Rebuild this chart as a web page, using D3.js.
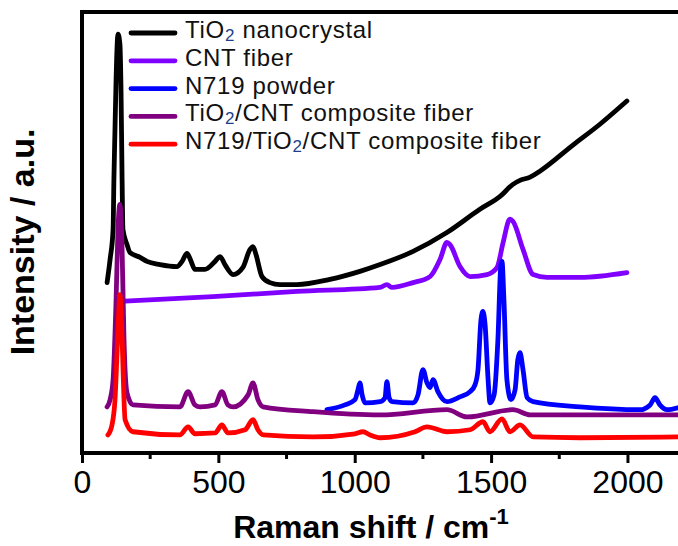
<!DOCTYPE html>
<html>
<head>
<meta charset="utf-8">
<script src="https://cdn.jsdelivr.net/npm/d3@7"></script>
<style>
  body { margin: 0; background: #fff; }
  svg { display: block; font-family: "Liberation Sans", Arial, sans-serif; }
</style>
</head>
<body>
<svg id="chart" width="678" height="546"></svg>
<script>
// Raman spectra, [wavenumber (cm-1), intensity (a.u., offset as plotted)]
const tio2Nano = [[92,42.5],[103,48.3],[114,55.8],[117,68.3],[121,80.8],[125,93.3],[132,104.5],[139,102],
  [143,90.8],[147,68.3],[150,55.8],[165,52],[176,50],[213,48.8],[238,47.8],[286,47],[348,46.5],[367,47.8],
  [385,49.8],[400,47.8],[414,45.8],[451,45.8],[488,47.8],[506,49],[524,47],[554,44.5],[590,46.3],[616,50.8],
  [627,51.5],[638,49.5],[660,44],[689,42.5],[726,42],[788,42],[909,43.3],[1019,45.3],[1093,47],[1214,50.3],
  [1338,55],[1459,60.8],[1533,64],[1580,67],[1606,68],[1643,68.8],[1679,70.3],[1800,76.8],[1899,82],[1998,87.8]];
const cntFiber = [[139,37.8],[480,39],[788,40.3],[1093,41.3],[1118,42],[1137,41.3],[1214,42.5],[1276,44],
  [1313,48.3],[1338,52.5],[1349,52],[1386,46.5],[1423,44],[1485,44.5],[1522,46.3],[1544,52.5],[1569,58.3],
  [1580,57.8],[1617,50.8],[1654,44.5],[1705,43.8],[1826,43.8],[1998,45]];
const n719Powder = [[898,10.8],[964,12],[1001,13.3],[1012,15.8],[1019,17.5],[1027,14.5],[1038,12.5],[1093,12.8],
  [1111,13.8],[1118,17.8],[1126,13.8],[1137,12.8],[1214,12.5],[1232,14.5],[1250,20.8],[1265,17.5],[1276,16.3],
  [1287,18.3],[1305,15.3],[1338,12.8],[1386,14],[1423,15.3],[1441,17],[1452,20.8],[1463,33.3],[1470,35.3],
  [1478,32],[1489,18.3],[1496,12.5],[1511,14.5],[1525,28.3],[1536,47],[1540,47.8],[1547,38.3],[1558,18.3],
  [1573,13.3],[1588,15.8],[1598,23.3],[1606,25],[1617,20.8],[1632,13.8],[1654,12.8],[1826,11.5],[2046,10.8],
  [2083,12],[2101,13.8],[2119,12],[2145,10.8],[2185,11.3]];
const tio2Cnt = [[92,11.5],[103,13.3],[114,18.3],[125,38.3],[132,55.8],[139,62],[147,50.8],[154,28.3],[165,15],
  [187,12],[359,11.5],[389,15.3],[414,12],[433,11.5],[488,12],[513,15.3],[535,12],[554,11.5],[609,14.5],
  [627,17.5],[645,13.3],[664,11.5],[847,10.3],[1093,9.5],[1338,10.8],[1412,9],[1580,10.8],[1643,9.5],[2185,9.5]];
const n719TiO2Cnt = [[95,4.5],[110,7],[121,13.3],[132,30.8],[139,39.5],[147,28.3],[158,8.3],[187,5.3],[359,4.5],
  [389,6.5],[414,4.8],[488,5],[513,7],[535,5],[598,5.8],[627,8.3],[645,5.8],[664,4.5],[847,4],[1001,4.8],
  [1030,5.3],[1056,4.5],[1093,3.8],[1221,5.3],[1265,6.5],[1338,5.3],[1423,5.8],[1470,7.8],[1496,5.3],
  [1540,8.5],[1569,5.3],[1606,7],[1654,4],[1826,3.8],[2185,4]];

// legend labels, split into [text, isSubscript] parts
const seriesNames = [
  [["TiO", false], ["2", true], [" nanocrystal", false]],
  [["CNT fiber", false]],
  [["N719 powder", false]],
  [["TiO", false], ["2", true], ["/CNT composite fiber", false]],
  [["N719/TiO", false], ["2", true], ["/CNT composite fiber", false]]
];
const seriesColors = ["#000000", "#8000ff", "#0000ff", "#800080", "#ff0000"];
const seriesData = [tio2Nano, cntFiber, n719Powder, tio2Cnt, n719TiO2Cnt];
const xTicks = [0, 500, 1000, 1500, 2000];
const xMinorTicks = [250, 750, 1250, 1750, 2250];

const svg = d3.select("#chart");
const plotLeft = 82, plotTop = 12, plotRight = 682, plotBottom = 453;

const x = d3.scaleLinear().domain([0, 2200]).range([plotLeft, plotRight]);
const y = d3.scaleLinear().domain([0, 110]).range([plotBottom, plotTop]);

const line = d3.line()
  .x(function(d) { return x(d[0]) })
  .y(function(d) { return y(d[1]) })
  .curve(d3.curveMonotoneX);

// spectra
seriesData.forEach(function(data, i) {
  svg.append("path")
    .datum(data)
    .attr("d", line)
    .attr("fill", "none")
    .attr("stroke", seriesColors[i])
    .attr("stroke-width", 4.8)
    .attr("stroke-linejoin", "round")
    .attr("stroke-linecap", "round");
});

// frame
svg.append("rect")
  .attr("x", plotLeft).attr("y", plotTop)
  .attr("width", plotRight - plotLeft).attr("height", plotBottom - plotTop)
  .attr("fill", "none").attr("stroke", "#000").attr("stroke-width", 4);

// x axis
const xAxis = svg.append("g")
  .attr("transform", "translate(0," + plotBottom + ")")
  .call(d3.axisBottom(x).tickValues(xTicks).tickSize(10).tickPadding(7).tickFormat(d3.format("d")));
xAxis.select(".domain").remove();
xAxis.selectAll(".tick line").attr("stroke-width", 3);
xAxis.selectAll(".tick text")
  .attr("font-size", 32).attr("fill", "#000")
  .attr("font-family", "Liberation Sans, Arial, sans-serif");

svg.append("g")
  .selectAll("line")
  .data(xMinorTicks.filter(function(d) { return x(d) < plotRight }))
  .enter()
  .append("line")
  .attr("x1", function(d) { return x(d) }).attr("x2", function(d) { return x(d) })
  .attr("y1", plotBottom).attr("y2", plotBottom + 6)
  .attr("stroke", "#000").attr("stroke-width", 3);

// axis titles
const xTitle = svg.append("text")
  .attr("x", 371).attr("y", 538)
  .attr("text-anchor", "middle")
  .attr("font-size", 32).attr("font-weight", "bold");
xTitle.append("tspan").text("Raman shift / cm");
xTitle.append("tspan").attr("dy", -14).attr("font-size", 22).text("-1");

svg.append("text")
  .attr("transform", "translate(34,242) rotate(-90)")
  .attr("text-anchor", "middle")
  .attr("font-size", 34).attr("font-weight", "bold")
  .text("Intensity / a.u.");

// legend
const legend = svg.append("g");
seriesNames.forEach(function(parts, i) {
  const ly = 33 + i * 27.8;
  legend.append("line")
    .attr("x1", 131).attr("x2", 175).attr("y1", ly).attr("y2", ly)
    .attr("stroke", seriesColors[i]).attr("stroke-width", 4.8).attr("stroke-linecap", "round");
  const t = legend.append("text")
    .attr("x", 185).attr("y", ly + 8)
    .attr("font-size", 24).attr("letter-spacing", 0.7).attr("fill", "#111");
  parts.forEach(function(p) {
    if (p[1]) {
      t.append("tspan").attr("dy", 3).attr("font-size", 17).attr("fill", "#1c3f8c").text(p[0]);
    } else {
      t.append("tspan").attr("dy", t.selectAll("tspan").size() > 0 ? -3 : 0).text(p[0]);
    }
  });
});
</script>
</body>
</html>
